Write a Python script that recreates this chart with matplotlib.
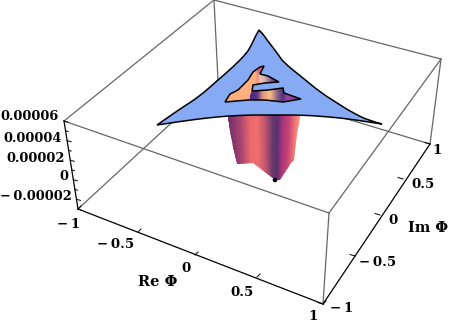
import numpy as np
import matplotlib
matplotlib.use("Agg")
import matplotlib.pyplot as plt
from matplotlib.colors import LinearSegmentedColormap
from matplotlib.patches import PathPatch, Polygon
from matplotlib.path import Path

back_edges = [
    [(64, 121), (329, 213)],
    [(329, 213), (441, 59)],
    [(441, 59), (214, 0)],
    [(214, 0), (64, 121)],
    [(329, 213), (323, 304)],
    [(441, 59), (430, 144)],
    [(214, 0), (218, 80)],
    [(218, 80), (78, 209)],
    [(218, 80), (430, 144)],
]
axis_edges = [
    [(64, 121), (78, 209)],
    [(78, 209), (323, 304)],
    [(323, 304), (430, 144)],
]

x_ticks = [(78, 209), (138, 232), (195, 255), (257, 277), (323, 304)]
y_ticks = [(323, 304), (355, 256), (380, 215), (403, 179), (430, 144)]
z_levels = [6, 5, 4, 3, 2, 1, 0, -1, -2, -3]
z_major = [6, 4, 2, 0, -2]

star_left = [(259, 30), (256, 35), (250, 48), (245, 55), (233, 67), (218, 80), (200, 96),
             (183, 107), (167, 118), (157, 125)]
star_bottom = [(157, 125), (183, 121), (207, 118), (227, 116), (250, 115), (270, 115),
               (303, 115), (330, 117), (350, 119), (382, 124)]
star_right = [(382, 124), (370, 121), (353, 113), (337, 103), (320, 92), (303, 78),
              (283, 62), (278, 54), (267, 40), (263, 34), (259, 30)]

hole = [(225, 102), (230, 94), (238, 90), (248, 80), (253, 72), (260, 67), (264, 66),
        (262, 70), (260, 74), (268, 76), (279, 82), (265, 83), (253, 85), (252, 91),
        (268, 90), (283, 88), (284, 93), (301, 99), (283, 102), (265, 100), (248, 100)]
hole_upper = hole[:14] + [hole[-1]]
hole_tip = [(257, 72), (260, 67), (264, 66), (262, 70), (260, 74)]
lower_band = hole[13:]

body = [(227, 115), (300, 115), (299, 123), (297, 133), (294, 160), (291, 163),
        (280, 180), (275, 180), (253, 163), (240, 164), (237, 164), (233, 147)]

hole_x = [225, 255, 258, 260, 264, 272, 279]
hole_colors = ["#ffaf7d", "#ffaf7d", "#e9907f", "#ecc5b5", "#d9b5b0", "#7a5085", "#46286e"]
band_x = [250, 257, 263, 270, 278, 283, 287, 295, 301]
band_colors = ["#4b2882", "#5a3282", "#e69682", "#fabe82", "#825a82", "#503282",
               "#a046a0", "#823c96", "#5a286e"]
body_top_x = [228, 240, 250, 257, 265, 273, 278, 283, 290, 297, 300]
body_bot_x = [234, 243, 251, 258, 266, 273, 277, 281, 287, 294, 297]
body_colors = ["#782d6e", "#aa466e", "#eb696e", "#f06e6e", "#be556e", "#64376e",
               "#5a326e", "#aa3278", "#c84678", "#fa8273", "#ff9673"]

z_labels = [("0.00006", 59, 117), ("0.00004", 62, 138), ("0.00002", 65, 158),
            ("0", 68, 177), ("\u2212\u20090.00002", 71.5, 196)]
x_labels = [("\u2212\u20091", 69, 224), ("\u2212\u20090.5", 116, 245), ("0", 186, 268),
            ("0.5", 242, 292), ("1", 313, 317)]
y_labels = [("\u2212\u20091", 342, 308), ("\u2212\u20090.5", 378, 262), ("0", 393, 221),
            ("0.5", 423, 185), ("1", 437, 151)]

fig = plt.figure(figsize=(4.5, 3.28), dpi=100)
ax = fig.add_axes([0, 0, 1, 1])
ax.set_xlim(0, 450)
ax.set_ylim(328, 0)
ax.axis("off")


def strip(top_x, bot_x, y0, y1, colors, poly, z):
    # colour bands between two rows of stops, cut to the outline
    cmap = LinearSegmentedColormap.from_list("b", colors)
    n = len(top_x)
    s = np.linspace(0, n - 1, 300)
    t = np.linspace(0, 1, 41)[:, None]
    xx = np.interp(s, np.arange(n), top_x) * (1 - t) + np.interp(s, np.arange(n), bot_x) * t
    yy = y0 + (y1 - y0) * t * np.ones_like(xx)
    cc = (s[:-1] + s[1:]) / 2 * np.ones((40, 1))
    m = ax.pcolormesh(xx, yy, cc, cmap=cmap, vmin=0, vmax=n - 1, shading="flat",
                      antialiased=False, zorder=z)
    m.set_clip_path(Polygon(poly, transform=ax.transData))


def rounded(edges):
    # each edge keeps its end points, the points between only pull the curve
    verts = [edges[0][0]]
    codes = [Path.MOVETO]
    for e in edges:
        p = np.array(e, dtype=float)
        for i in range(1, len(p) - 1):
            end = p[i + 1] if i == len(p) - 2 else (p[i] + p[i + 1]) / 2
            verts += [p[i], end]
            codes += [Path.CURVE3, Path.CURVE3]
    verts.append(edges[0][0])
    codes.append(Path.CLOSEPOLY)
    return Path(verts, codes)


for e in back_edges:
    p = np.array(e)
    ax.plot(p[:, 0], p[:, 1], c="#666666", lw=0.9, zorder=1)
for e in axis_edges:
    p = np.array(e)
    ax.plot(p[:, 0], p[:, 1], c="black", lw=0.9, zorder=2)

for x, y in x_ticks:
    ax.plot([x, x + 3], [y, y - 3], c="black", lw=0.7, zorder=2)
for x, y in y_ticks:
    ax.plot([x, x - 5], [y, y - 1.5], c="black", lw=0.7, zorder=2)
for lev in z_levels:
    t = (6 - lev) / 9
    x = 64 + t * 14
    y = 121 + t * 88
    n = 4 if lev in z_major else 2.5
    ax.plot([x, x + n], [y, y + n * 0.3], c="black", lw=0.7, zorder=2)

# hanging part of the surface
strip(body_top_x, body_bot_x, 115, 181, body_colors, body, 3)
ax.add_patch(plt.Circle((275, 180), 1.6, color="black", zorder=4))

star_path = rounded([star_left, star_bottom, star_right])
ax.add_patch(PathPatch(star_path, fc="#87aaf5", ec="black", lw=1.1, zorder=5))

# surface seen through the hole
ax.add_patch(Polygon(hole, closed=True, fc="#87aaf5", ec="none", zorder=6))
strip(hole_x, hole_x, 60, 105, hole_colors, hole_upper, 7)
ax.add_patch(Polygon(hole_tip, closed=True, fc="#d26487", ec="none", zorder=7.5))
strip(band_x, band_x, 85, 105, band_colors, lower_band, 8)
ax.add_patch(Polygon(hole, closed=True, fc="none", ec="black", lw=1.1, zorder=9))

font = dict(family="DejaVu Serif", fontweight="bold", color="black")
for s, x, y in z_labels:
    ax.text(x, y, s, ha="right", va="center", fontsize=9.3, **font)
for s, x, y in x_labels + y_labels:
    ax.text(x, y, s, ha="center", va="center", fontsize=9.6, **font)
ax.text(158, 282, "Re \u03a6", ha="center", va="center", fontsize=10.5, **font)
ax.text(428, 228, "Im \u03a6", ha="center", va="center", fontsize=10.5, **font)

plt.savefig("out.png", dpi=100)
